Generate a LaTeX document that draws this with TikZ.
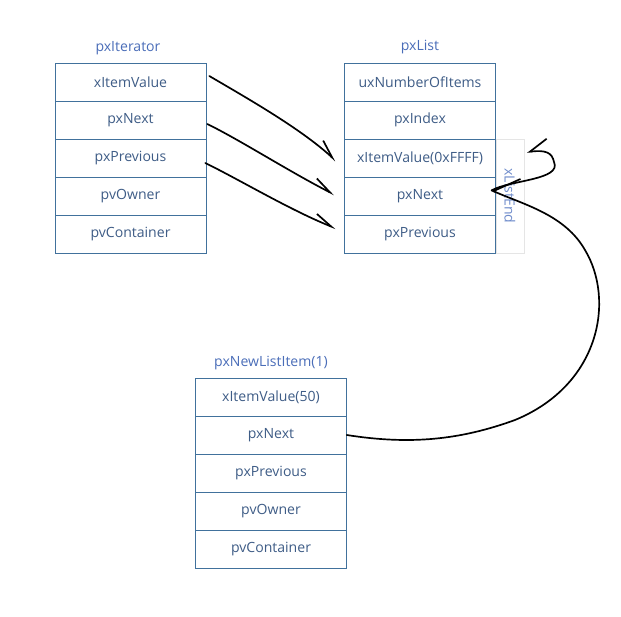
\documentclass[tikz,border=0pt]{standalone}
\usepackage{fontspec}
\setmainfont{Open Sans}
\usetikzlibrary{arrows.meta}
\definecolor{cellText}{HTML}{3E5C86}
\definecolor{cellLine}{HTML}{41719C}
\definecolor{titleBlue}{HTML}{4A6DB8}
\definecolor{endBlue}{HTML}{6F8CCB}
\begin{document}
\begin{tikzpicture}[x=0.025cm, y=-0.025cm,
      cell/.style={draw=cellLine, thin, minimum width=3.775cm, minimum height=0.95cm,
                   inner sep=0pt, font=\fontsize{10}{12}\selectfont, text=cellText},
      ttl/.style={font=\fontsize{10}{12}\selectfont, text=titleBlue},
      hand/.style={line width=1.2pt, line cap=round, line join=round},
      tipL/.style={hand, -{Straight Barb[left, length=4.5mm, width=3.2mm]}},
      tipR/.style={hand, -{Straight Barb[right, length=#1]}}]
    \useasboundingbox (0,0) rectangle (621,617);
    % pxIterator
    \node[ttl] (itT) at (128,48) {pxIterator};
    \node[cell] (it1) at (130.5,82)  {xItemValue};
    \node[cell] (it2) at (130.5,120) {pxNext};
    \node[cell] (it3) at (130.5,158) {pxPrevious};
    \node[cell] (it4) at (130.5,196) {pvOwner};
    \node[cell] (it5) at (130.5,234) {pvContainer};
    % pxList
    \node[ttl] (lsT) at (420,47) {pxList};
    \node[cell] (ls1) at (420,82)  {uxNumberOfItems};
    \node[cell] (ls2) at (420,120) {pxIndex};
    \node[cell] (ls3) at (420,158) {xItemValue(0xFFFF)};
    \node[cell] (ls4) at (420,196) {pxNext};
    \node[cell] (ls5) at (420,234) {pxPrevious};
    \node[draw=gray!20, thin, rotate=-90, minimum width=2.85cm, minimum height=0.7cm,
          inner sep=0pt, text=endBlue, font=\fontsize{10}{12}\selectfont] (le) at (510,196) {xListEnd};
    % pxNewListItem(1)
    \node[ttl] (niT) at (271,363) {pxNewListItem(1)};
    \node[cell] (ni1) at (271,397) {xItemValue(50)};
    \node[cell] (ni2) at (271,435) {pxNext};
    \node[cell] (ni3) at (271,473) {pxPrevious};
    \node[cell] (ni4) at (271,511) {pvOwner};
    \node[cell] (ni5) at (271,549) {pvContainer};
    \coordinate (loopEnd) at (527,152);
    % pointers
    \draw[tipL] ([shift={(3,-6)}]it1.east) .. controls (245,97) and (300,128) .. ([xshift=-6,yshift=-2]ls3.west);
    \draw[tipL] ([shift={(1,4)}]it2.east) .. controls (240,140) and (290,172) .. ([xshift=-7,yshift=1]ls4.west);
    \draw[tipL] ([shift={(-1,5)}]it3.east) .. controls (240,180) and (290,210) .. ([xshift=-6,yshift=4]ls5.west);
    \draw[tipR={5mm, width=11mm}] (ni2.east) .. controls (410,445) and (460,440) .. (515,420)
                .. controls (600,385) and (615,300) .. (585,250)
                .. controls (565,215) and (525,205) .. ([xshift=-3,yshift=4]ls4.east);
    \draw[tipR={4.5mm, width=5.5mm}] ([xshift=-3,yshift=4]ls4.east) .. controls (510,180) and (562,180) .. (554,162)
                .. controls (552,152) and (545,150) .. (loopEnd);
\end{tikzpicture}
\end{document}
